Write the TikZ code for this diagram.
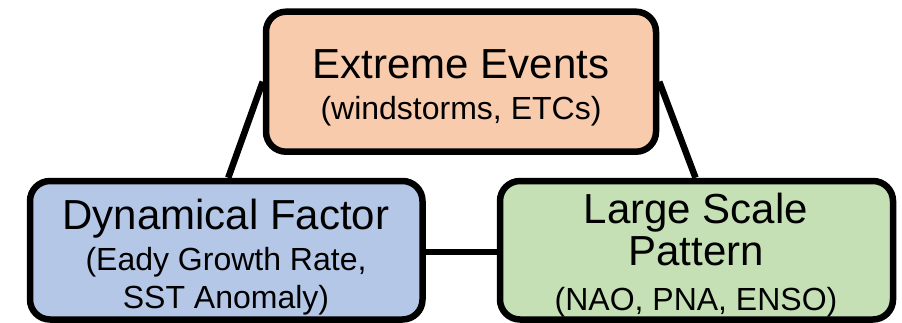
\documentclass[tikz,border=0pt]{standalone}
\usepackage{fontspec}
\setmainfont{Liberation Sans}
\usetikzlibrary{backgrounds}
\definecolor{boxorange}{RGB}{248,203,173}
\definecolor{boxblue}{RGB}{180,199,231}
\definecolor{boxgreen}{RGB}{197,224,180}
\tikzset{
  card/.style={draw=black, line width=6.5pt, rounded corners=20pt, rectangle, inner sep=0pt},
  link/.style={draw=black, line width=6.5pt},
  ttl/.style={anchor=base, inner sep=0pt, font=\fontsize{42}{48}\selectfont},
  sub/.style={anchor=base, inner sep=0pt, font=\fontsize{32}{38}\selectfont},
}
\begin{document}
\begin{tikzpicture}[x=1pt,y=-1pt]
\useasboundingbox (0,0) rectangle (902,322);
\node[card, fill=boxorange, minimum width=390pt, minimum height=140pt] (top) at (461,81.7) {};
\node[card, fill=boxblue, minimum width=392.5pt, minimum height=138.5pt] (left) at (226.25,250.25) {};
\node[card, fill=boxgreen, minimum width=393pt, minimum height=138.5pt] (right) at (696.5,250.25) {};
\begin{scope}[on background layer]
\draw[link] (top.west) -- ([xshift=2pt]left.north);
\draw[link] (top.east) -- ([xshift=-1pt]right.north);
\draw[link] ([yshift=-1.5pt]left.east) -- ([yshift=-1.5pt]right.west);
\end{scope}
\node[ttl] (t1) at (461,78) {Extreme Events};
\node[sub] (t2) at (461,119) {(windstorms, ETCs)};
\node[ttl] (l1) at (226,229) {Dynamical Factor};
\node[sub] (l2) at (226,270) {(Eady Growth Rate,};
\node[sub] (l3) at (226,308) {SST Anomaly)};
\node[ttl] (r1) at (696,223) {Large Scale};
\node[ttl] (r2) at (696,265) {Pattern};
\node[sub] (r3) at (696,310) {(NAO, PNA, ENSO)};
\end{tikzpicture}
\end{document}
